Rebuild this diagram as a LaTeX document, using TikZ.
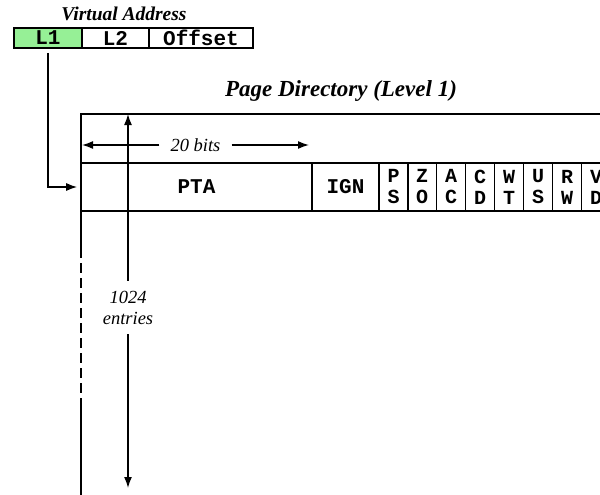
\documentclass[tikz,border=0pt]{standalone}
\usepackage{fontspec}
\setmainfont{Liberation Serif}
\setmonofont{Liberation Mono}
\usetikzlibrary{arrows.meta}
\definecolor{lgreen}{RGB}{150,240,150}
\begin{document}
\begin{tikzpicture}[x=1pt,y=-1pt,
  box/.style={draw,line width=1.8pt,inner sep=0pt,minimum height=20pt,font=\ttfamily\bfseries\fontsize{21}{22}\selectfont},
  cell/.style={draw,line width=1.6pt,inner sep=0pt,minimum height=48pt,font=\ttfamily\bfseries\fontsize{21}{22}\selectfont},
  flag/.style={cell,minimum width=29pt,align=center,font=\ttfamily\bfseries\fontsize{20}{21}\selectfont},
  lbl/.style={font=\itshape\fontsize{18.5}{21}\selectfont,align=center},
  ttl/.style={font=\bfseries\itshape},
  arr/.style={line width=1.5pt,-{Latex[length=11pt,width=8pt]}},
  edgeline/.style={line width=2pt}]
\useasboundingbox (0,0) rectangle (600,495);

% virtual address
\node[ttl,font=\bfseries\itshape\fontsize{19.5}{22}\selectfont,anchor=base] (vatitle) at (124,21) {Virtual Address};
\node[box,fill=lgreen,minimum width=68pt] (va1) at (48,38) {L1};
\node[box,minimum width=67pt] (va2) at (115.5,38) {L2};
\node[box,minimum width=104pt] (va3) at (201,38) {Offset};

% title
\node[ttl,font=\bfseries\itshape\fontsize{23}{26}\selectfont,anchor=base] (pdtitle) at (341,96) {Page Directory (Level 1)};

% table frame
\draw[edgeline] (81,114) -- (610,114);
\draw[edgeline] (81,113) -- (81,248);
\draw[edgeline,dash pattern=on 10pt off 5pt] (81,248) -- (81,402);
\draw[edgeline] (81,402) -- (81,500);

% entry row
\node[cell,minimum width=231pt] (pta) at (196.5,187) {PTA};
\node[cell,minimum width=67pt] (ign) at (345.5,187) {IGN};
\node[flag] (ps) at (393.5,187) {P\\S};
\node[flag] (zo) at (422,187) {Z\\O};
\node[flag] (ac) at (451,187) {A\\C};
\node[flag] (cd) at (480,187) {C\\D};
\node[flag] (wt) at (509,187) {W\\T};
\node[flag] (us) at (538,187) {U\\S};
\node[flag] (rw) at (567,187) {R\\W};
\node[flag] (vd) at (596,187) {V\\D};

% 20 bits
\node[lbl,inner xsep=11pt,inner ysep=2pt] (bits) at (195.5,145) {20 bits};
\coordinate (bitsl) at (82,145);
\coordinate (bitsr) at (309,145);
\draw[arr] (bits.west) -- (bitsl);
\draw[arr] (bits.east) -- (bitsr);

% 1024 entries
\node[lbl,inner xsep=2pt,inner ysep=10pt] (ent) at (128,307.5) {1024\\entries};
\coordinate (entt) at (128,114);
\coordinate (entb) at (128,488);
\draw[arr] (ent.north) -- (entt);
\draw[arr] (ent.south) -- (entb);

% L1 pointer
\draw[arr,shorten <=4pt,shorten >=3pt] (va1.south) |- (pta.west);
\end{tikzpicture}
\end{document}
